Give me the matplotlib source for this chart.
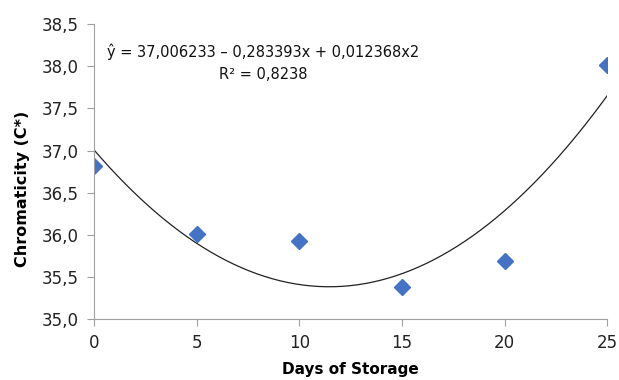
import matplotlib
matplotlib.use("Agg")
import matplotlib.pyplot as plt
import numpy as np

days = [0, 5, 10, 15, 20, 25]
chroma = [36.82, 36.01, 35.92, 35.38, 35.69, 38.01]
coef = [37.006233, -0.283393, 0.012368]  # from the shown trendline equation
eq_text = "ŷ = 37,006233 – 0,283393x + 0,012368x2\nR² = 0,8238"
yticks = [35.0, 35.5, 36.0, 36.5, 37.0, 37.5, 38.0, 38.5]
xticks = [0, 5, 10, 15, 20, 25]

plt.rcParams['font.family'] = ['DejaVu Sans']
fig = plt.figure(figsize=(6.19, 3.80), dpi=100)
ax = fig.add_axes([0.152, 0.1605, 0.829, 0.776])

xs = np.linspace(0, 25, 200)
ys = coef[0] + coef[1] * xs + coef[2] * xs ** 2
ax.plot(xs, ys, color='#222222', lw=0.9)
ax.plot(days, chroma, linestyle='none', marker='D', color='#4472C4', markersize=8)

ax.set_xlim(0, 25)
ax.set_ylim(35.0, 38.5)
ax.set_xticks(xticks)
ax.set_yticks(yticks)
ax.set_yticklabels([f"{v:.1f}".replace('.', ',') for v in yticks])
ax.tick_params(labelsize=12, color='#A0A0A0', length=5, direction='out', pad=6, labelcolor='#222222')
for s in ['top', 'right']:
    ax.spines[s].set_visible(False)
for s in ['left', 'bottom']:
    ax.spines[s].set_color('#A0A0A0')
ax.set_ylabel("Chromaticity (C*)", fontsize=11.5, fontweight='bold')
ax.yaxis.set_label_coords(-0.125, 0.44)
ax.set_xlabel("Days of Storage", fontsize=11, fontweight='bold')
ax.xaxis.set_label_coords(0.5, -0.145)
ax.text(0.33, 0.868, eq_text, transform=ax.transAxes, fontsize=10.5,
        ha='center', va='center', multialignment='center', color='#111111', linespacing=1.6)

fig.savefig("out.png", dpi=100)
